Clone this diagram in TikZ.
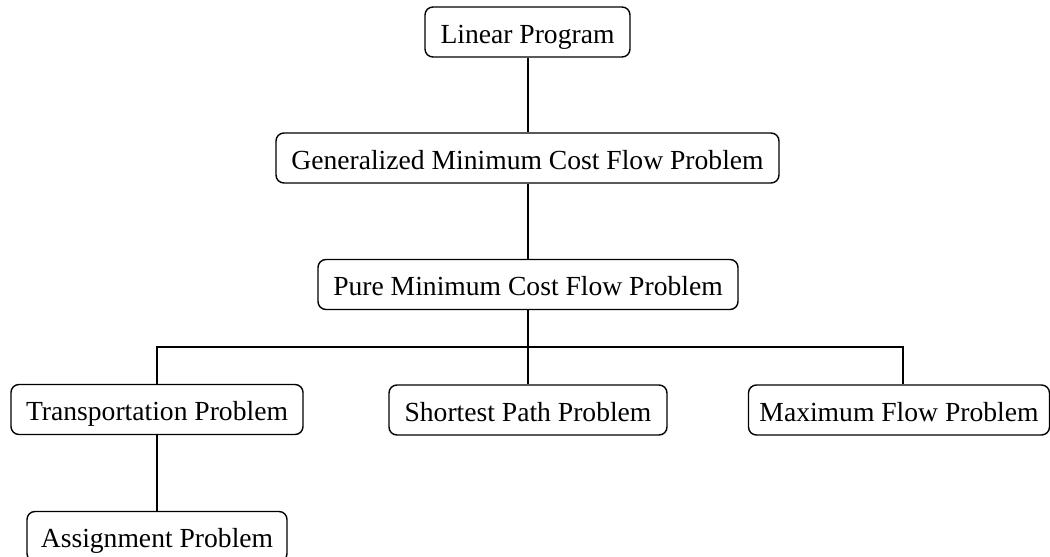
\documentclass[tikz,border=0pt]{standalone}
\usepackage{fontspec}
\setmainfont{Liberation Serif}
\begin{document}
\begin{tikzpicture}[x=0.5pt,y=-0.5pt,
  box/.style={draw, line width=0.7pt, rounded corners=4pt, inner sep=0pt,
    minimum height=25pt, text height=13pt, text depth=2pt,
    font=\fontsize{13.8}{16}\selectfont},
  conn/.style={line width=0.7pt}]
\clip (0,0) rectangle (1050,557);
\useasboundingbox (0,0) rectangle (1050,557);
\node[box, minimum width=102.5pt] (lp) at (527.5,32) {Linear Program};
\node[box, minimum width=251.5pt] (gen) at (527.5,158) {Generalized Minimum Cost Flow Problem};
\node[box, minimum width=210pt] (pure) at (528,284.5) {Pure Minimum Cost Flow Problem};
\node[box, minimum width=146pt] (trans) at (157,409.5) {Transportation Problem};
\node[box, minimum width=139pt] (spp) at (528,410) {Shortest Path Problem};
\node[box, minimum width=150.5pt] (mfp) at (899,410) {Maximum Flow Problem};
\node[box, minimum width=130pt] (asg) at (157,536.5) {Assignment Problem};
\coordinate (jl) at (157,347);
\coordinate (jr) at (903,347);
\draw[conn] (lp.south -| 528,0) -- (gen.north -| 528,0);
\draw[conn] (gen.south -| 528,0) -- (pure.north -| 528,0);
\draw[conn] (pure.south) -- (spp.north);
\draw[conn] (trans.north) -- (jl) -- (jr) -- (jr |- mfp.north);
\draw[conn] (trans.south) -- (asg.north);
\end{tikzpicture}
\end{document}
